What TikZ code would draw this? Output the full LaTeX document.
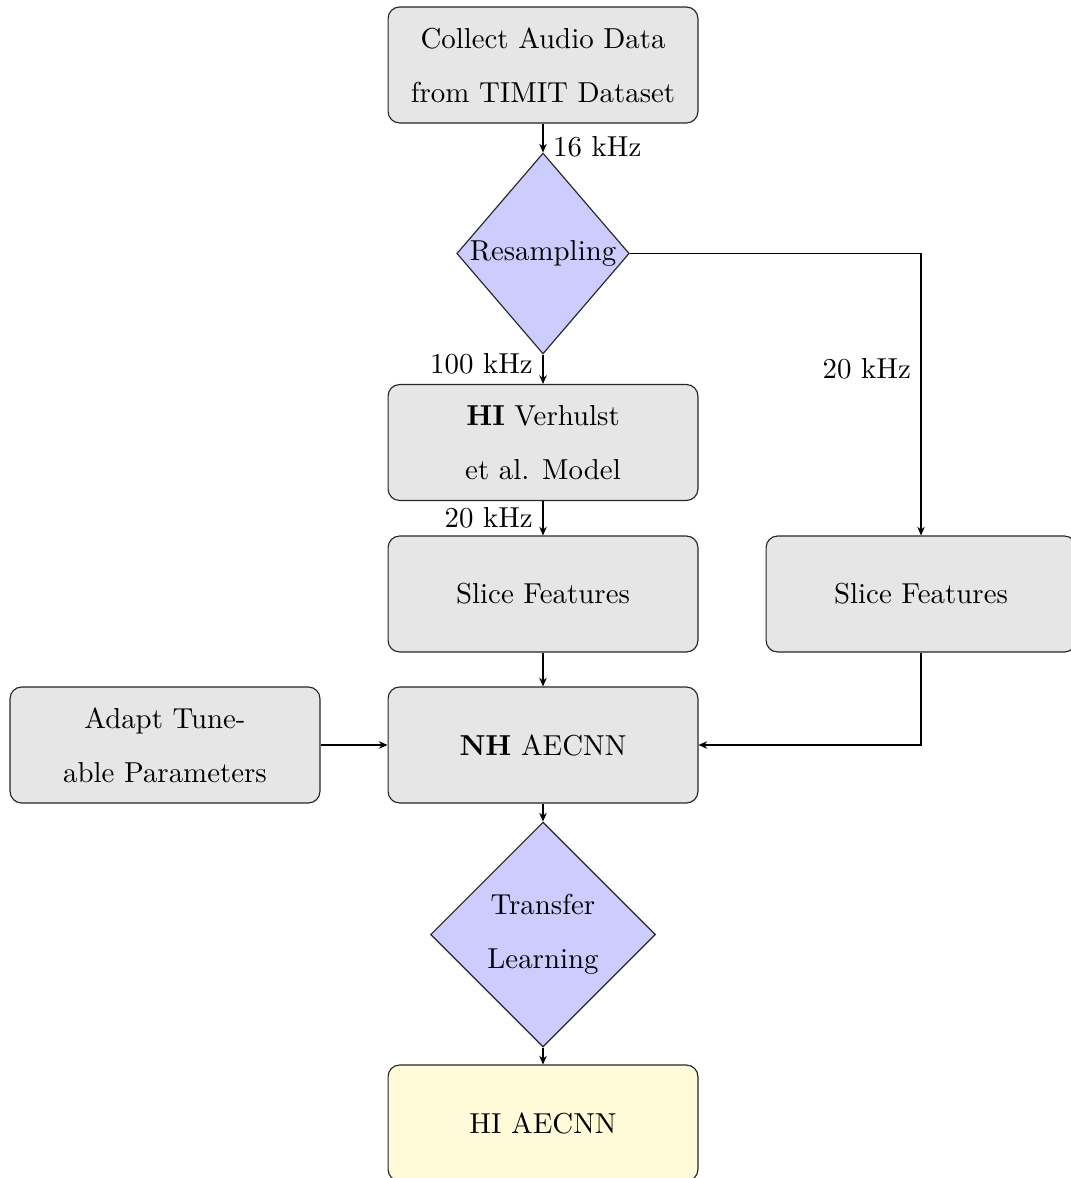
\documentclass[tikz,border=0pt]{standalone}
\usetikzlibrary{shapes.geometric,arrows.meta}
\definecolor{boxgray}{RGB}{230,230,230}
\definecolor{decblue}{RGB}{204,204,255}
\definecolor{outyellow}{RGB}{255,250,215}
\begin{document}
\begin{tikzpicture}[x=0.01217cm,y=-0.01217cm,
  procbox/.style={rectangle, rounded corners=4pt, draw=black!85, fill=boxgray,
    minimum width=3.773cm, minimum height=1.412cm, inner sep=0pt, align=center},
  decbox/.style={diamond, draw=black!85, fill=decblue, inner sep=0pt, align=center},
  arr/.style={-{Stealth[length=3pt,width=2.6pt]}, draw=black}]
\useasboundingbox (0,0) rectangle (1070,1178);

\node[procbox] (collect) at (543,65) {Collect Audio Data\\[6.7pt]from TIMIT Dataset};
\node[decbox, minimum width=2.069cm, minimum height=2.446cm] (res) at (543,253.5) {Resampling};
\node[procbox] (hi) at (543,442.5) {\textbf{HI} Verhulst\\[6.7pt]et al. Model};
\node[procbox] (sf1) at (543,594) {Slice Features};
\node[procbox] (sf2) at (921,594) {Slice Features};
\node[procbox] (nh) at (543,745) {\textbf{NH} AECNN};
\node[procbox] (adapt) at (165,745) {Adapt Tune-\\[6.7pt]able Parameters};
\node[decbox, minimum width=2.738cm, minimum height=2.738cm] (tl) at (543,934.5) {Transfer\\[6.7pt]Learning};
\node[procbox, fill=outyellow] (out) at (543,1123) {HI AECNN};

\draw[arr] (collect) -- (res) node[pos=0.8, right] {16 kHz};
\draw[arr] (res) -- (hi) node[pos=0.32, left] {100 kHz};
\draw[arr] (hi) -- (sf1) node[pos=0.5, left] {20 kHz};
\draw[arr] (res.east) -| node[pos=0.705, left] {20 kHz} (sf2);
\draw[arr] (sf1) -- (nh);
\draw[arr] (sf2) |- (nh);
\draw[arr] (adapt) -- (nh);
\draw[arr] (nh) -- (tl);
\draw[arr] (tl) -- (out);
\end{tikzpicture}
\end{document}
